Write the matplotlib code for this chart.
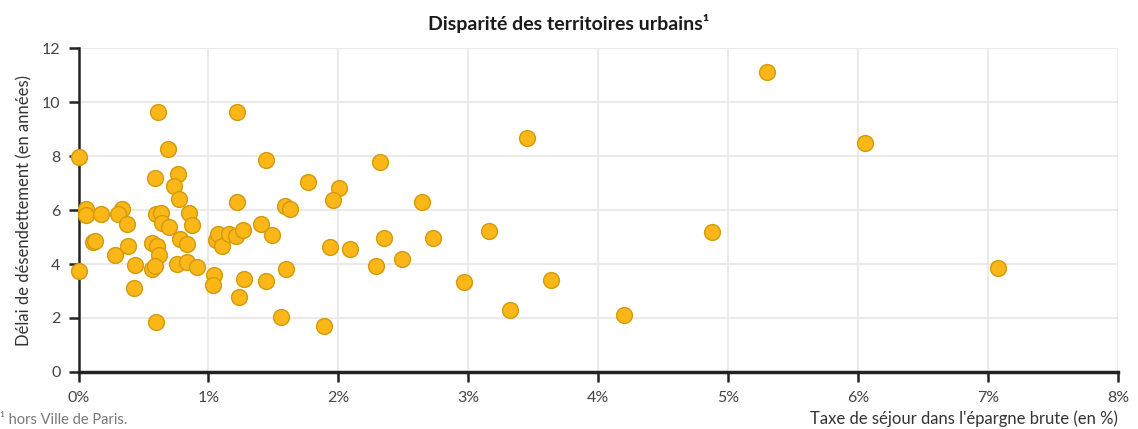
import matplotlib.pyplot as plt
from matplotlib.ticker import FuncFormatter

plt.rcParams['font.family'] = ['Lato', 'DejaVu Sans']

# Taxe de séjour dans l'épargne brute (en %)
taxe = [0.615, 1.223, 0.0, 0.685, 0.588, 0.762, 0.731, 0.775, 1.218, 0.057,
        0.057, 0.172, 0.331, 0.303, 0.595, 0.634, 0.852, 0.375, 0.646, 0.698,
        0.877, 0.108, 0.128, 0.377, 0.565, 0.605, 0.78, 0.834, 0.282, 0.621,
        1.057, 1.077, 1.108, 1.159, 1.21, 1.267, 0.436, 0.569, 0.588, 0.759,
        0.838, 0.911, 0.005, 1.046, 1.038, 1.275, 0.428, 1.236, 0.595,
        1.444, 1.769, 2.005, 1.959, 2.321, 1.59, 1.628, 1.403, 1.492, 1.936,
        2.093, 2.349, 2.293, 2.49, 1.595, 1.446, 1.557, 1.89,
        2.642, 2.728, 3.157, 4.877, 2.965, 3.638, 3.318, 4.198, 5.295, 3.452,
        6.05, 7.08]

# Délai de désendettement (en années)
delai = [9.63, 9.63, 7.97, 8.25, 7.2, 7.32, 6.89, 6.4, 6.29, 6.04,
         5.82, 5.86, 6.04, 5.86, 5.86, 5.88, 5.9, 5.49, 5.51, 5.37,
         5.43, 4.82, 4.87, 4.68, 4.77, 4.65, 4.92, 4.75, 4.32, 4.33,
         4.9, 5.12, 4.65, 5.12, 5.04, 5.27, 3.97, 3.83, 3.91, 4.01,
         4.06, 3.89, 3.73, 3.58, 3.24, 3.46, 3.1, 2.79, 1.86,
         7.87, 7.05, 6.82, 6.37, 7.77, 6.15, 6.03, 5.49, 5.08, 4.63,
         4.56, 4.98, 3.94, 4.18, 3.83, 3.37, 2.04, 1.7,
         6.3, 4.98, 5.23, 5.19, 3.32, 3.42, 2.29, 2.12, 11.1, 8.67,
         8.49, 3.84]

xticks = [0, 1, 2, 3, 4, 5, 6, 7, 8]
yticks = [0, 2, 4, 6, 8, 10, 12]

fig = plt.figure(figsize=(11.38, 4.29), dpi=100)
ax = fig.add_axes([0.069, 0.1329, 0.9134, 0.7551])

ax.scatter(taxe, delai, s=130, color='#fbb718', edgecolor='#d19a0b',
           linewidth=1.0, zorder=3, clip_on=False)

ax.set_xlim(0, 8)
ax.set_ylim(0, 12)
ax.set_xticks(xticks)
ax.set_yticks(yticks)
ax.xaxis.set_major_formatter(FuncFormatter(lambda v, p: f'{v:.0f}%'))

ax.grid(True, color='#e6e6e6', linewidth=1.2, zorder=0)
ax.set_axisbelow(True)
for s in ['top', 'right']:
    ax.spines[s].set_visible(False)
ax.spines['left'].set_color('#222222')
ax.spines['left'].set_linewidth(1.8)
ax.spines['bottom'].set_color('#222222')
ax.spines['bottom'].set_linewidth(2.5)
ax.tick_params(axis='both', colors='#222222', labelcolor='#444444',
               labelsize=11.5, width=1.8, length=7)
ax.tick_params(axis='x', pad=7)
ax.tick_params(axis='y', pad=6)

ax.set_ylabel('Délai de désendettement (en années)', fontsize=12,
              color='#333333', labelpad=7)

fig.text(0.5, 0.945, 'Disparité des territoires urbains¹', ha='center',
         va='center', fontsize=14, fontweight='bold', color='#1a1a1a')
fig.text(0.0, 0.004, '¹ hors Ville de Paris.', ha='left', va='bottom',
         fontsize=10.5, color='#777777')
fig.text(0.9824, 0.004, "Taxe de séjour dans l'épargne brute (en %)",
         ha='right', va='bottom', fontsize=12, color='#333333')

fig.savefig('out.png', dpi=100)
